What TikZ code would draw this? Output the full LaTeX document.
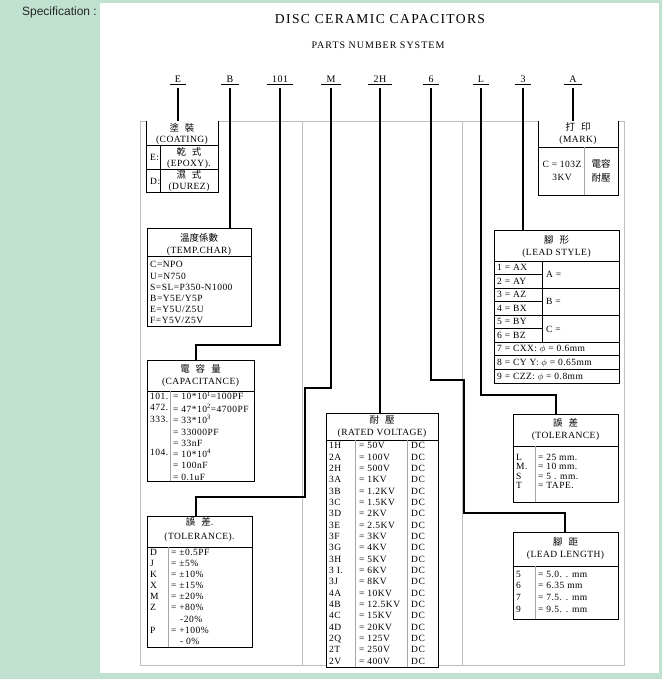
\documentclass[tikz,border=0pt]{standalone}
\usepackage{fontspec}
\setmainfont{Liberation Serif}
\newfontfamily\tabfont[LetterSpace=5]{Liberation Serif}
\newfontfamily\widefont[LetterSpace=10]{Liberation Serif}
\newfontfamily\specfont{Liberation Sans}
\newfontfamily\cjk{Noto Sans CJK TC}
\usetikzlibrary{positioning, calc}
\definecolor{specgreen}{RGB}{192,224,208}
\definecolor{panelgray}{RGB}{190,190,190}
\newcommand{\cgap}{\hspace{6pt}}

\begin{document}
\begin{tikzpicture}[
    x=1pt, y=-1pt,
    code/.style={anchor=base, font=\tabfont\fontsize{10}{12}\selectfont, inner xsep=5pt, inner ysep=1pt, text depth=0pt},
    tbl/.style={rectangle, draw=black, line width=0.8pt, fill=white, anchor=north west, inner sep=0pt, outer sep=0pt},
    head/.style={anchor=north, align=center, inner sep=0pt, font=\tabfont\fontsize{9.5}{#1}\selectfont},
    head/.default=12.8,
    col/.style={anchor=north west, align=left, inner sep=0pt, font=\tabfont\fontsize{9.5}{#1}\selectfont},
    rule/.style={line width=0.8pt},
    cell/.style={line width=0.8pt, draw=black!35},
    panel/.style={draw=panelgray, line width=0.8pt},
    link/.style={line width=2.4pt}
  ]
    \useasboundingbox (0,0) rectangle (662,679);
    % Page
    \fill[specgreen] (0,0) rectangle (662,679);
    \fill[white] (100,3) rectangle (659,673);
    \node[anchor=base east, font=\specfont\fontsize{12}{14}\selectfont, text=black!85, inner sep=0pt] (spec) at (97,15.5) {Specification :};
    \node[anchor=base, font=\widefont\fontsize{13.6}{16}\selectfont, inner sep=0pt] (title) at (380,24) {DISC CERAMIC CAPACITORS};
    \node[anchor=base, font=\widefont\fontsize{10}{12}\selectfont, inner sep=0pt] (subtitle) at (378,48.5) {PARTS NUMBER SYSTEM};
    \draw[panel] (140,121) rectangle (624,665) (302,121) -- (302,665) (462,121) -- (462,665);

    % Code letters
    \node[code] (cE) at (178,83) {E};
    \node[code] (cB) at (230,83) {B};
    \node[code] (c101) at (280,83) {101};
    \node[code] (cM) at (331,83) {M};
    \node[code] (c2H) at (380,83) {2H};
    \node[code] (c6) at (431,83) {6};
    \node[code] (cL) at (481,83) {L};
    \node[code] (c3) at (523,83) {3};
    \node[code] (cA) at (573,83) {A};
    \draw[line width=0.6pt] (cE.south west) -- (cE.south east) (cB.south west) -- (cB.south east)
      (c101.south west) -- (c101.south east) (cM.south west) -- (cM.south east)
      (c2H.south west) -- (c2H.south east) (c6.south west) -- (c6.south east)
      (cL.south west) -- (cL.south east) (c3.south west) -- (c3.south east)
      (cA.south west) -- (cA.south east);

    % Coating
    \node[tbl, draw=none, minimum width=72pt, minimum height=71pt] (coat) at (146,121) {};
    \draw[rule] (coat.north west) |- (coat.south east) -- (coat.north east);
    \draw[rule] (146,145) -- (218,145) (146,169) -- (218,169) (160,145) -- (160,192);
    \node[head=11] at ([yshift=-2pt]coat.north) {\strut{\cjk 塗\cgap 裝}\\(COATING)};
    \node[col=24] at (150,143.2) {\strut E:\\D:};
    \node[col=11.3, anchor=north, align=center] at (189,147.5) {\strut{\cjk 乾\cgap 式}\\(EPOXY).\\{\cjk 濕\cgap 式}\\(DUREZ)};

    % Temp. char
    \node[tbl, minimum width=104pt, minimum height=98pt] (temp) at (147,228) {};
    \draw[rule] (147,256) -- (251,256);
    \node[head] at ([yshift=-4pt]temp.north) {\strut{\cjk 溫度係數}\\(TEMP.CHAR)};
    \node[col=11.2] at (150,259.8) {\strut C=NPO\\U=N750\\S=SL=P350-N1000\\B=Y5E/Y5P\\E=Y5U/Z5U\\F=Y5V/Z5V};

    % Capacitance
    \node[tbl, minimum width=107pt, minimum height=121pt] (cap) at (147,360) {};
    \draw[rule] (147,391) -- (254,391);
    \draw[cell] (170,391) -- (170,481);
    \node[head] at ([yshift=-3pt]cap.north) {\strut{\cjk 電\cgap 容\cgap 量}\\(CAPACITANCE)};
    \node[col=11.25] at (150,391.5) {\strut 101.\\472.\\333.\\\strut\\\strut\\104.};
    \node[col=11.25] at (173,391.5) {\strut= 10*10\textsuperscript{1}=100PF\\= 47*10\textsuperscript{2}=4700PF\\= 33*10\textsuperscript{3}\\= 33000PF\\= 33nF\\= 10*10\textsuperscript{4}\\= 100nF\\= 0.1uF};

    % Tolerance (left)
    \node[tbl, minimum width=105pt, minimum height=131pt] (tolA) at (147,516) {};
    \draw[rule] (147,547) -- (252,547);
    \draw[cell] (168,547) -- (168,647);
    \node[head=14] at ([yshift=0.5pt]tolA.north) {\strut{\cjk 誤\cgap 差}.\\(TOLERANCE).};
    \node[col=11.1] at (150,547.5) {\strut D\\J\\K\\X\\M\\Z\\\strut\\P};
    \node[col=11.1] at (171,547.5) {\strut= ±0.5PF\\= ±5\%\\= ±10\%\\= ±15\%\\= ±20\%\\= +80\%\\\hspace{9pt}-20\%\\= +100\%\\\hspace{9pt}- 0\%};

    % Rated voltage
    \node[tbl, minimum width=112pt, minimum height=254pt] (volt) at (326,413) {};
    \draw[rule] (326,440) -- (438,440);
    \draw[cell] (355,440) -- (355,667) (407,440) -- (407,667);
    \node[head] at ([yshift=-1pt]volt.north) {\strut{\cjk 耐\cgap 壓}\\(RATED VOLTAGE)};
    \node[col=11.35] at (329,440.5) {\strut 1H\\2A\\2H\\3A\\3B\\3C\\3D\\3E\\3F\\3G\\3H\\3 I.\\3J\\4A\\4B\\4C\\4D\\2Q\\2T\\2V};
    \node[col=11.35] at (359,440.5) {\strut= 50V\\= 100V\\= 500V\\= 1KV\\= 1.2KV\\= 1.5KV\\= 2KV\\= 2.5KV\\= 3KV\\= 4KV\\= 5KV\\= 6KV\\= 8KV\\= 10KV\\= 12.5KV\\= 15KV\\= 20KV\\= 125V\\= 250V\\= 400V};
    \node[col=11.35] at (411,440.5) {\strut DC\\DC\\DC\\DC\\DC\\DC\\DC\\DC\\DC\\DC\\DC\\DC\\DC\\DC\\DC\\DC\\DC\\DC\\DC\\DC};

    % Mark
    \node[tbl, draw=none, minimum width=80pt, minimum height=74pt] (mark) at (538,121) {};
    \draw[rule] (mark.north west) |- (mark.south east) -- (mark.north east);
    \draw[rule] (538,147) -- (618,147);
    \draw[cell] (584,147) -- (584,195);
    \node[head=12] at ([yshift=-1pt]mark.north) {\strut{\cjk 打\cgap 印}\\(MARK)};
    \node[col=13, anchor=north, align=center] at (562,158) {\strut C = 103Z\\3KV};
    \node[col=14, anchor=north, align=center] at (601,157.3) {\strut{\cjk 電容}\\{\cjk 耐壓}};

    % Lead style
    \node[tbl, minimum width=125pt, minimum height=153pt] (style) at (494,230) {};
    \draw[rule] (494,261) -- (619,261) (542,261) -- (542,342.3);
    \draw[rule] (494,274.55) -- (542,274.55) (494,301.65) -- (542,301.65) (494,328.75) -- (542,328.75);
    \draw[rule] (494,288.1) -- (619,288.1) (494,315.2) -- (619,315.2) (494,342.3) -- (619,342.3)
      (494,355.85) -- (619,355.85) (494,369.4) -- (619,369.4);
    \node[head] at ([yshift=-4pt]style.north) {\strut{\cjk 腳\cgap 形}\\(LEAD STYLE)};
    \node[col=13.55] at (497,261) {\strut 1 = AX\\2 = AY\\3 = AZ\\4 = BX\\5 = BY\\6 = BZ\\7 = CXX: $\phi$ = 0.6mm\\8 = CY Y: $\phi$ = 0.65mm\\9 = CZZ: $\phi$ = 0.8mm};
    \node[col=27.1] at (546,258.7) {\strut A =\\B =\\C =};

    % Tolerance (right)
    \node[tbl, minimum width=105pt, minimum height=88pt] (tolB) at (513,414) {};
    \draw[rule] (513,446) -- (618,446);
    \draw[cell] (535,446) -- (535,502);
    \node[head] at ([yshift=-3pt]tolB.north) {\strut{\cjk 誤\cgap 差}\\(TOLERANCE)};
    \node[col=9.2] at (516,454) {\strut L\\M.\\S\\T};
    \node[col=9.2] at (538,454) {\strut= 25 mm.\\= 10 mm.\\= 5 . mm.\\= TAPE.};

    % Lead length
    \node[tbl, minimum width=105pt, minimum height=87pt] (len) at (513,532) {};
    \draw[rule] (513,566) -- (618,566);
    \draw[cell] (535,566) -- (535,619);
    \node[head] at ([yshift=-4pt]len.north) {\strut{\cjk 腳\cgap 距}\\(LEAD LENGTH)};
    \node[col=11.6] at (516,569) {\strut 5\\6\\7\\9};
    \node[col=11.6] at (538,569) {\strut= 5.0. . mm\\= 6.35 mm\\= 7.5. . mm\\= 9.5. . mm};

    % Connectors
    \coordinate (k101) at (196,345);
    \coordinate (kM1) at (305,388);
    \coordinate (kM2) at (196,497);
    \coordinate (k6a) at (464,380);
    \coordinate (k6b) at (565,513);
    \coordinate (kL) at (556,395);
    \draw[link] ([yshift=-4pt]cE.south) -- (cE |- coat.north);
    \draw[link] ([yshift=-4pt]cB.south) -- (cB |- temp.north);
    \draw[link] ([yshift=-4pt]c101.south) |- (k101) -- (k101 |- cap.north);
    \draw[link] ([yshift=-4pt]cM.south) |- (kM1) |- (kM2) -- (kM2 |- tolA.north);
    \draw[link] ([yshift=-4pt]c2H.south) -- (c2H |- volt.north);
    \draw[link] ([yshift=-4pt]c6.south) |- (k6a) |- (k6b) -- (k6b |- len.north);
    \draw[link] ([yshift=-4pt]cL.south) |- (kL) -- (kL |- tolB.north);
    \draw[link] ([yshift=-4pt]c3.south) -- (c3 |- style.north);
    \draw[link] ([yshift=-4pt]cA.south) -- (cA |- mark.north);
\end{tikzpicture}
\end{document}
